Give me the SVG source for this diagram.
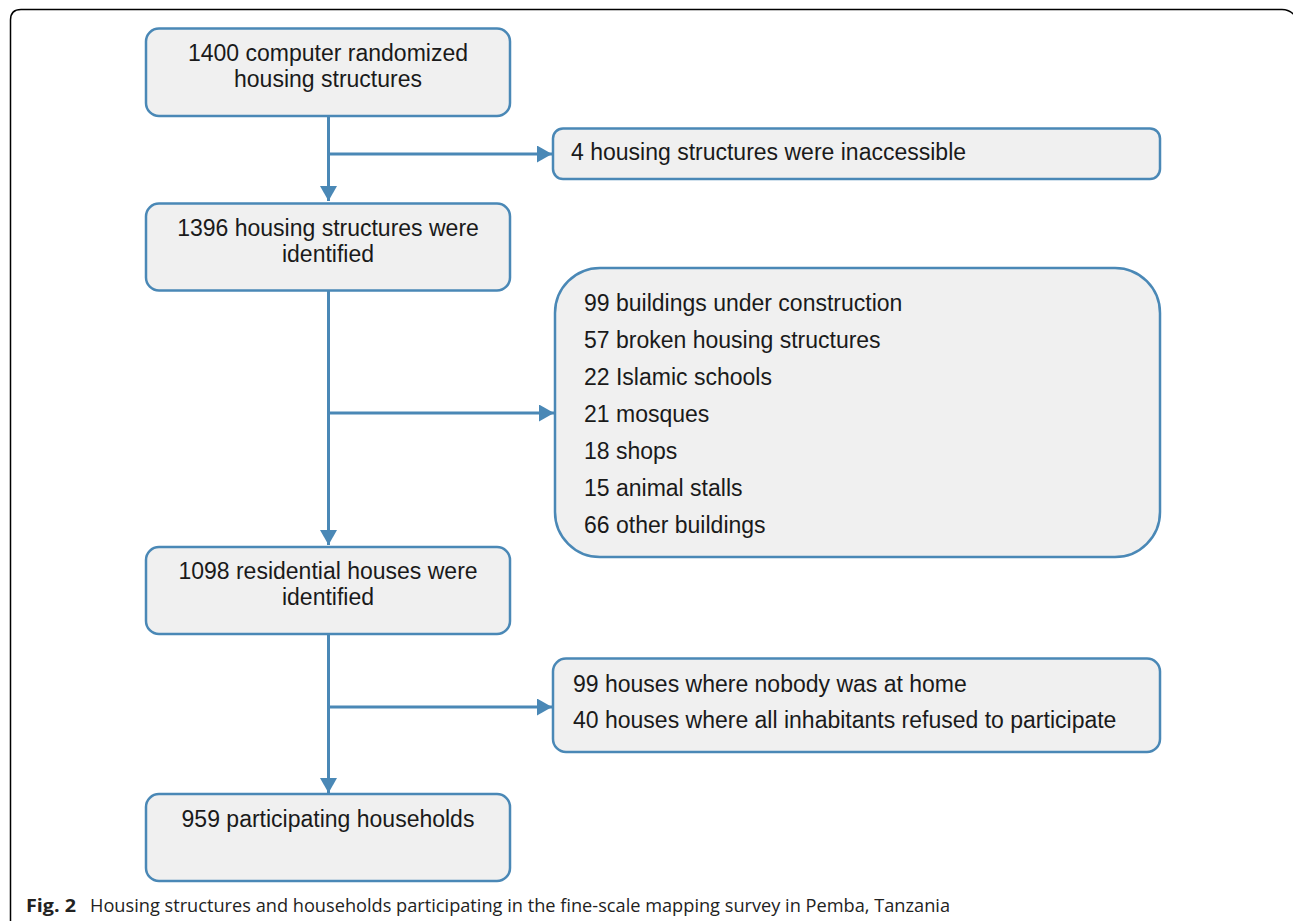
<svg xmlns="http://www.w3.org/2000/svg" width="1293" height="921" viewBox="0 0 1293 921">
<style>
.box{fill:#f0f0f0;stroke:#4a88b6;stroke-width:2.5}
.t{font-family:"Liberation Sans",Arial,sans-serif;font-size:23px;fill:#1a1a1a}
.c{text-anchor:middle}
.conn{stroke:#4a88b6;stroke-width:3;fill:none}
.cap{font-family:"Open Sans","Noto Sans",sans-serif;font-size:18.5px;fill:#222}
</style>
<defs>
<marker id="ah" markerUnits="userSpaceOnUse" markerWidth="16" markerHeight="18" refX="15" refY="8.5" orient="auto">
<path d="M0,0 L15,8.5 L0,17 Z" fill="#4a88b6"/>
</marker>
</defs>
<rect width="1293" height="921" fill="#ffffff"/>
<path d="M10.5,921 V20 Q10.5,9.5 21,9.5 H1282 Q1290,9.5 1295,16" fill="none" stroke="#000" stroke-width="1.5"/>

<g id="connectors">
<path class="conn" d="M328.5,116 V201" marker-end="url(#ah)"/>
<path class="conn" d="M328.5,154 H552" marker-end="url(#ah)"/>
<path class="conn" d="M328.5,290 V545" marker-end="url(#ah)"/>
<path class="conn" d="M328.5,413 H554" marker-end="url(#ah)"/>
<path class="conn" d="M328.5,634 V793" marker-end="url(#ah)"/>
<path class="conn" d="M328.5,707 H552" marker-end="url(#ah)"/>
</g>

<g id="n1">
<rect class="box" x="146" y="28.5" width="364" height="87.5" rx="13"/>
<text class="t c" x="328" y="61">1400 computer randomized</text>
<text class="t c" x="328" y="87">housing structures</text>
</g>
<g id="n2">
<rect class="box" x="553" y="128.5" width="607" height="50.5" rx="10"/>
<text class="t" x="571" y="160">4 housing structures were inaccessible</text>
</g>
<g id="n3">
<rect class="box" x="146" y="203.5" width="364" height="87" rx="13"/>
<text class="t c" x="328" y="236">1396 housing structures were</text>
<text class="t c" x="328" y="262">identified</text>
</g>
<g id="n4">
<rect class="box" x="555" y="268" width="605" height="289" rx="45"/>
<text class="t" x="584" y="311">99 buildings under construction</text>
<text class="t" x="584" y="348">57 broken housing structures</text>
<text class="t" x="584" y="385">22 Islamic schools</text>
<text class="t" x="584" y="422">21 mosques</text>
<text class="t" x="584" y="459">18 shops</text>
<text class="t" x="584" y="496">15 animal stalls</text>
<text class="t" x="584" y="533">66 other buildings</text>
</g>
<g id="n5">
<rect class="box" x="146" y="547" width="364" height="87" rx="13"/>
<text class="t c" x="328" y="579">1098 residential houses were</text>
<text class="t c" x="328" y="605">identified</text>
</g>
<g id="n6">
<rect class="box" x="553" y="658.5" width="607" height="93.5" rx="13"/>
<text class="t" x="573" y="692">99 houses where nobody was at home</text>
<text class="t" x="573" y="728">40 houses where all inhabitants refused to participate</text>
</g>
<g id="n7">
<rect class="box" x="146" y="794" width="364" height="87" rx="13"/>
<text class="t c" x="328" y="827">959 participating households</text>
</g>

<text class="cap" y="911.5"><tspan x="26" font-weight="bold" textLength="50" lengthAdjust="spacingAndGlyphs">Fig. 2</tspan><tspan x="90" textLength="860" lengthAdjust="spacingAndGlyphs">Housing structures and households participating in the fine-scale mapping survey in Pemba, Tanzania</tspan></text>
</svg>
